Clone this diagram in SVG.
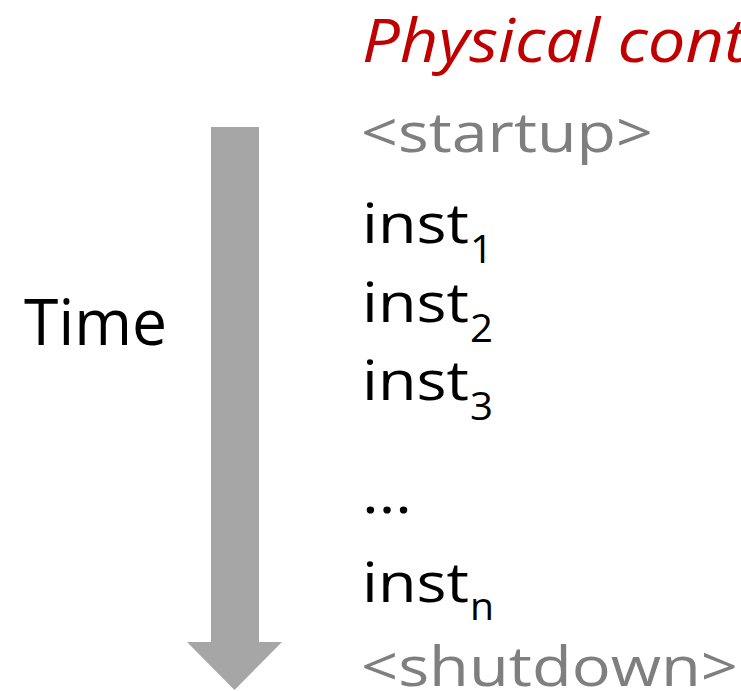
<svg xmlns="http://www.w3.org/2000/svg" width="741" height="691" viewBox="0 0 741 691">
<style>
text{font-family:"Open Sans","Noto Sans","DejaVu Sans",sans-serif}
.title{fill:#C00000;font-style:italic;font-size:60px}
.gray{fill:#7F7F7F;font-size:54px}
.inst{fill:#000;font-size:54px}
.sub{fill:#000;font-size:39px}
.time{fill:#000;font-size:64px}
</style>
<rect width="741" height="691" fill="#FFFFFF"/>
<g id="connectors">
<polygon id="time-arrow" points="211,127 259,127 259,642 282,642 234.5,690 187,642 211,642" fill="#A6A6A6"/>
</g>
<g id="time-label"><text class="time" x="24" y="345" textLength="143" lengthAdjust="spacingAndGlyphs">Time</text></g>
<g id="title"><text class="title" x="362" y="62" textLength="384" lengthAdjust="spacingAndGlyphs">Physical cont</text></g>
<g id="startup"><text class="gray" x="361" y="152" textLength="292" lengthAdjust="spacingAndGlyphs">&lt;startup&gt;</text></g>
<g id="inst1"><text class="inst" x="362" y="243" textLength="107" lengthAdjust="spacingAndGlyphs">inst</text><text class="sub" x="470" y="263" textLength="23" lengthAdjust="spacingAndGlyphs">1</text></g>
<g id="inst2"><text class="inst" x="362" y="322" textLength="107" lengthAdjust="spacingAndGlyphs">inst</text><text class="sub" x="470" y="342" textLength="23" lengthAdjust="spacingAndGlyphs">2</text></g>
<g id="inst3"><text class="inst" x="362" y="400" textLength="107" lengthAdjust="spacingAndGlyphs">inst</text><text class="sub" x="470" y="420" textLength="23" lengthAdjust="spacingAndGlyphs">3</text></g>
<g id="ellipsis"><text class="inst" x="362" y="513" textLength="50" lengthAdjust="spacingAndGlyphs">…</text></g>
<g id="instn"><text class="inst" x="362" y="602" textLength="107" lengthAdjust="spacingAndGlyphs">inst</text><text class="sub" x="470" y="620" textLength="24" lengthAdjust="spacingAndGlyphs">n</text></g>
<g id="shutdown"><text class="gray" x="361" y="686" font-size="58" textLength="377" lengthAdjust="spacingAndGlyphs">&lt;shutdown&gt;</text></g>
</svg>
